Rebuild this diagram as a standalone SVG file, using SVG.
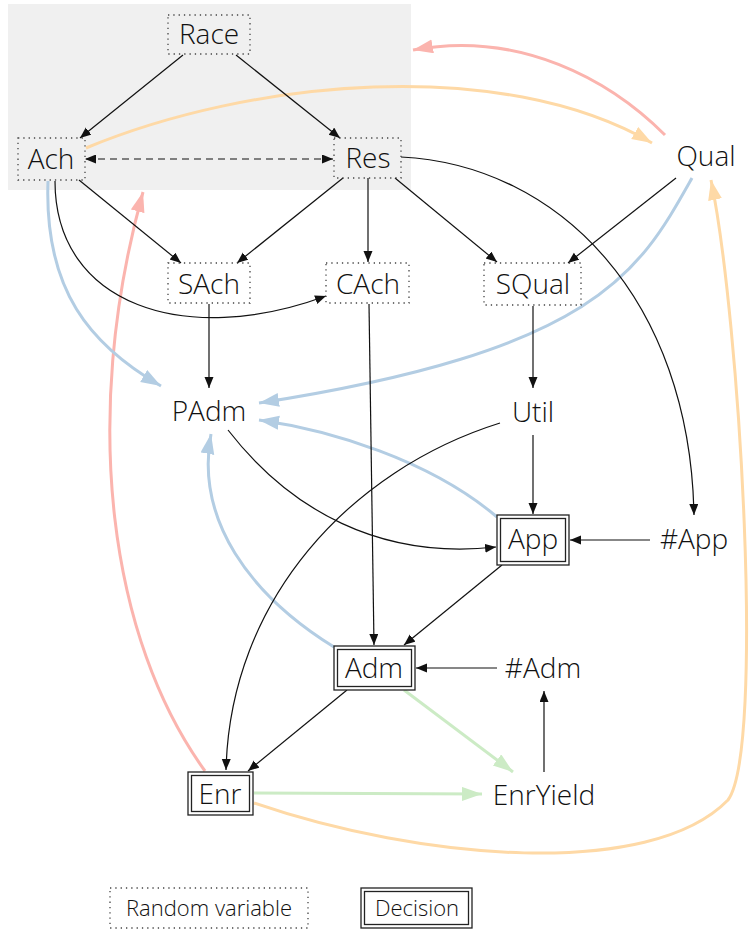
<svg xmlns="http://www.w3.org/2000/svg" width="752" height="931" viewBox="0 0 752 931">
<style>
text{font-family:"Open Sans","Noto Sans","DejaVu Sans",sans-serif;font-weight:300;font-size:28px;fill:#111;text-anchor:middle;dominant-baseline:central}
.leg{font-size:22px}
.rv{fill:none;stroke:#444;stroke-width:1.3;stroke-dasharray:1.3,4}
.dec{fill:#fff;stroke:#222;stroke-width:1.3}
.e{fill:none;stroke:#111;stroke-width:1.2;marker-end:url(#ab)}
.red{fill:none;stroke:#fbb4ae;stroke-width:3;marker-end:url(#ar)}
.org{fill:none;stroke:#fed9a6;stroke-width:3;marker-end:url(#ao)}
.blu{fill:none;stroke:#b3cde3;stroke-width:3;marker-end:url(#au)}
.grn{fill:none;stroke:#ccebc5;stroke-width:3;marker-end:url(#ag)}
</style>
<defs>
<marker id="ab" markerUnits="userSpaceOnUse" markerWidth="12" markerHeight="10" refX="11" refY="4.5" orient="auto"><path d="M0,0 L11,4.5 L0,9 z" fill="#111"/></marker>
<marker id="abs" markerUnits="userSpaceOnUse" markerWidth="12" markerHeight="10" refX="1" refY="4.5" orient="auto"><path d="M11,0 L0,4.5 L11,9 z" fill="#111"/></marker>
<marker id="ar" markerUnits="userSpaceOnUse" markerWidth="22" markerHeight="16" refX="20" refY="7" orient="auto"><path d="M0,0 L20,7 L0,14 z" fill="#fbb4ae"/></marker>
<marker id="ao" markerUnits="userSpaceOnUse" markerWidth="22" markerHeight="16" refX="20" refY="7" orient="auto"><path d="M0,0 L20,7 L0,14 z" fill="#fed9a6"/></marker>
<marker id="au" markerUnits="userSpaceOnUse" markerWidth="22" markerHeight="16" refX="20" refY="7" orient="auto"><path d="M0,0 L20,7 L0,14 z" fill="#b3cde3"/></marker>
<marker id="ag" markerUnits="userSpaceOnUse" markerWidth="22" markerHeight="16" refX="20" refY="7" orient="auto"><path d="M0,0 L20,7 L0,14 z" fill="#ccebc5"/></marker>
</defs>
<rect id="cluster" x="8" y="4" width="403" height="186" fill="#f0f0f0"/>
<g id="edges">
<path class="red" d="M665,135 C610,80 520,30 413,50"/>
<path class="red" d="M205,771 C110,640 80,420 143,192"/>
<path class="org" d="M86,148 C250,80 500,55 652,143"/>
<path class="org" d="M254,803 C420,860 650,880 728,800 C765,750 740,320 711,180"/>
<path class="blu" d="M48,181 C44,290 90,345 161,386"/>
<path class="blu" d="M692,178 C640,270 600,350 259,403"/>
<path class="blu" d="M497,517 C430,460 330,430 259,420"/>
<path class="blu" d="M334,647 C250,595 195,520 211,434"/>
<path class="grn" d="M404,690 L513,772"/>
<path class="grn" d="M254,793 L482,794"/>
<path class="e" d="M183,55 L80,138"/>
<path class="e" d="M236,55 L340,138"/>
<path fill="none" stroke="#111" stroke-width="1.2" stroke-dasharray="7,5" marker-start="url(#abs)" marker-end="url(#ab)" d="M86,159 L333,159"/>
<path class="e" d="M79,180 L181,263"/>
<path class="e" d="M343,178 L237,263"/>
<path class="e" d="M368,178 L368,262"/>
<path class="e" d="M395,178 L497,262"/>
<path class="e" d="M676,178 L568,263"/>
<path class="e" d="M55,181 C55,305 185,348 326,296"/>
<path class="e" d="M401,157 C560,165 690,300 694,515"/>
<path class="e" d="M209,304 L209,388"/>
<path class="e" d="M369,304 L374,645"/>
<path class="e" d="M533,306 L533,388"/>
<path class="e" d="M533,435 L533,514"/>
<path class="e" d="M500,423 C350,470 230,600 226,770"/>
<path class="e" d="M228,430 C290,510 380,560 496,547"/>
<path class="e" d="M650,540 L570,540"/>
<path class="e" d="M502,565 L404,645"/>
<path class="e" d="M497,668 L416,668"/>
<path class="e" d="M347,690 L248,771"/>
<path class="e" d="M544,772 L544,691"/>
</g>
<g id="Race"><rect class="rv" x="168" y="15" width="82" height="39"/><text x="209" y="33">Race</text></g>
<g id="Ach"><rect class="rv" x="18" y="138" width="67" height="42"/><text x="51" y="158">Ach</text></g>
<g id="Res"><rect class="rv" x="334" y="138" width="67" height="40"/><text x="368" y="157">Res</text></g>
<g id="Qual"><text x="706" y="155">Qual</text></g>
<g id="SAch"><rect class="rv" x="168" y="263" width="82" height="40"/><text x="209" y="283">SAch</text></g>
<g id="CAch"><rect class="rv" x="326" y="263" width="83" height="40"/><text x="368" y="283">CAch</text></g>
<g id="SQual"><rect class="rv" x="484" y="263" width="97" height="42"/><text x="533" y="283">SQual</text></g>
<g id="PAdm"><text x="209" y="410">PAdm</text></g>
<g id="Util"><text x="533" y="411">Util</text></g>
<g id="App"><rect class="dec" x="497" y="515" width="72" height="50"/><rect class="dec" x="500.5" y="518.5" width="65" height="43"/><text x="533" y="538">App</text></g>
<g id="nApp"><text x="694" y="538">#App</text></g>
<g id="Adm"><rect class="dec" x="334" y="646" width="81" height="44"/><rect class="dec" x="337.5" y="649.5" width="74" height="37"/><text x="374" y="667">Adm</text></g>
<g id="nAdm"><text x="543" y="667">#Adm</text></g>
<g id="Enr"><rect class="dec" x="188" y="772" width="65" height="43"/><rect class="dec" x="191.5" y="775.5" width="58" height="36"/><text x="220" y="793">Enr</text></g>
<g id="EnrYield"><text x="544" y="794">EnrYield</text></g>
<g id="legend">
<rect class="rv" x="110" y="888" width="198" height="40"/><text class="leg" x="209" y="907">Random variable</text>
<rect class="dec" x="361" y="888" width="111" height="40"/><rect class="dec" x="364.5" y="891.5" width="104" height="33"/><text class="leg" x="417" y="907">Decision</text>
</g>
</svg>
